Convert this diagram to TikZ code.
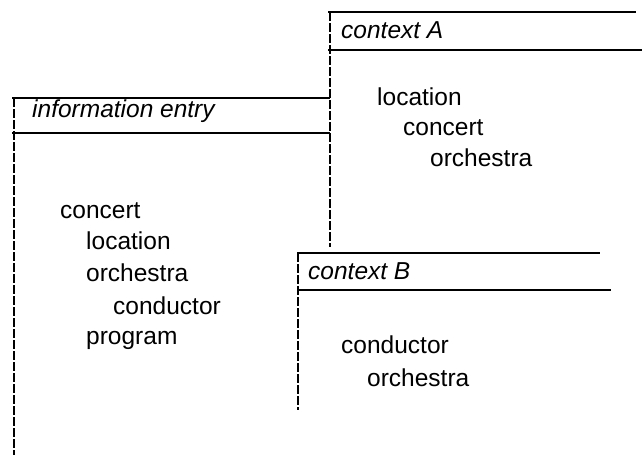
\documentclass[tikz,border=0pt]{standalone}
\usepackage{fontspec}
\setmainfont{Liberation Sans}
\begin{document}
\begin{tikzpicture}[x=1pt,y=-1pt,
  rule/.style={line width=2pt},
  side/.style={line width=1.3pt, dash pattern=on 9pt off 2pt},
  item/.style={anchor=base west, inner sep=0pt, font=\fontsize{24.5}{28}\selectfont},
  head/.style={anchor=base west, inner sep=0pt, font=\fontsize{24.5}{28}\selectfont\itshape}]
\useasboundingbox (0,0) rectangle (642,455);

% frame: information entry
\draw[rule] (12,98) -- (330,98);
\draw[rule] (12,133) -- (330,133);
\draw[side] (14,98) -- (14,455);
\node[head] (ie) at (32,117) {information entry};
\node[item] (ie1) at (60,218) {concert};
\node[item] (ie2) at (86,249) {location};
\node[item] (ie3) at (86,281) {orchestra};
\node[item] (ie4) at (113,314) {conductor};
\node[item] (ie5) at (86,344) {program};

% frame: context A
\draw[rule] (328,12) -- (636,12);
\draw[rule] (328,50) -- (642,50);
\draw[side] (330,12) -- (330,247);
\node[head] (ca) at (341,38) {context A};
\node[item] (ca1) at (377,105) {location};
\node[item] (ca2) at (403,135) {concert};
\node[item] (ca3) at (430,166) {orchestra};

% frame: context B
\draw[rule] (297,253) -- (600,253);
\draw[rule] (297,290) -- (611,290);
\draw[side] (298,253) -- (298,410);
\node[head] (cb) at (308,279) {context B};
\node[item] (cb1) at (341,353) {conductor};
\node[item] (cb2) at (367,386) {orchestra};
\end{tikzpicture}
\end{document}
